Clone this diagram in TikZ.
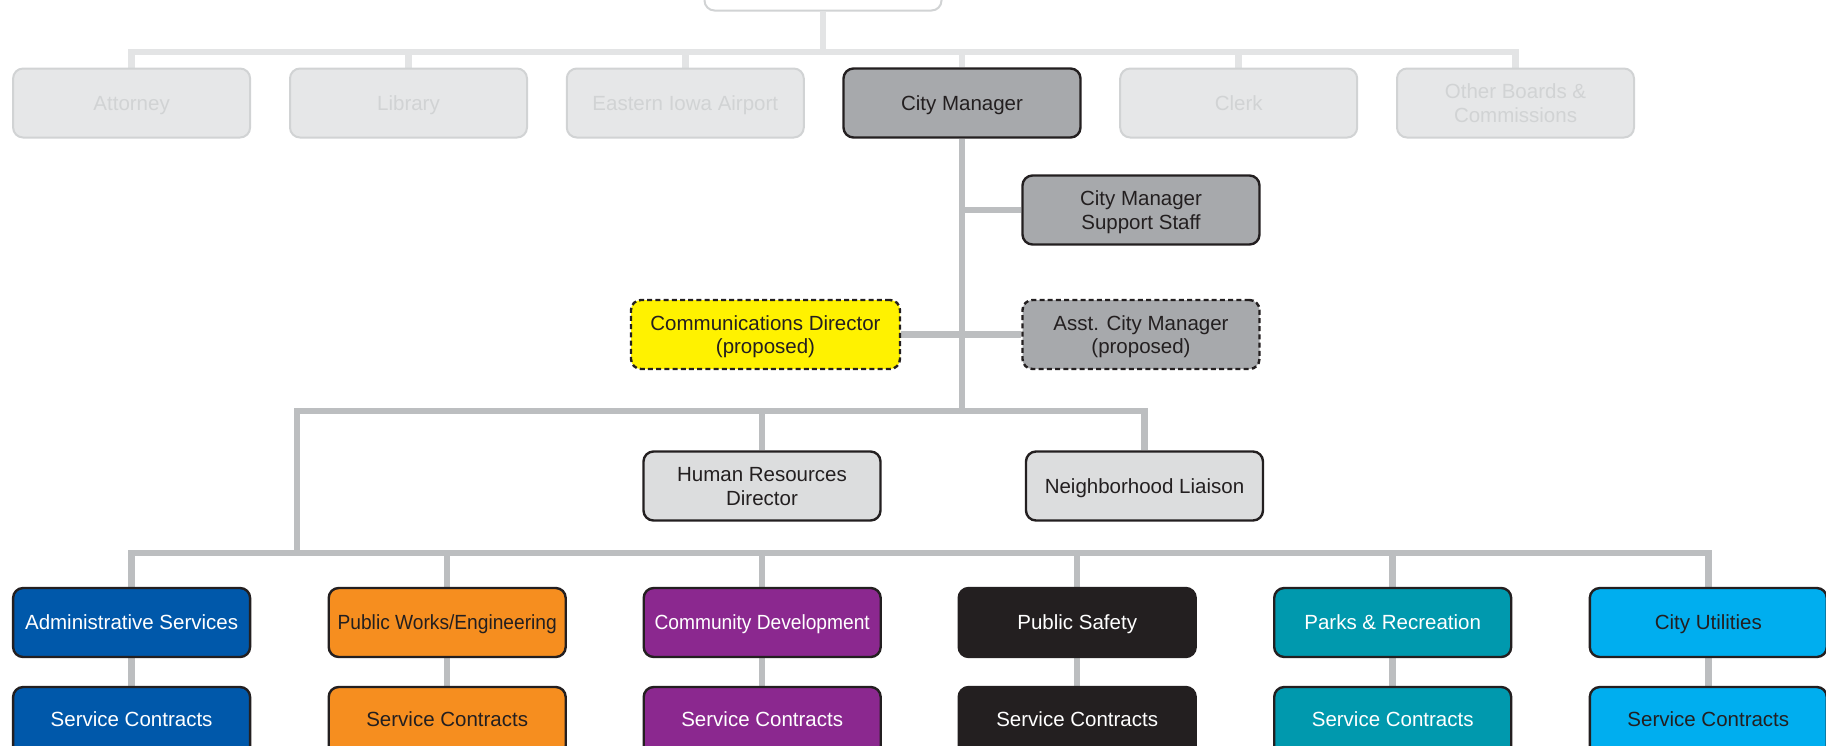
\documentclass[tikz,border=0pt]{standalone}
\usepackage{fontspec}
\setmainfont{Liberation Sans}
\newfontfamily\narrowfont[FakeStretch=0.935]{Liberation Sans}
\usetikzlibrary{backgrounds}

% palette
\definecolor{ink}{HTML}{231F20}
\definecolor{faintfill}{HTML}{E6E7E8}
\definecolor{faintline}{HTML}{D1D3D4}
\definecolor{topbar}{HTML}{E3E4E5}
\definecolor{mgrgray}{HTML}{A7A9AC}
\definecolor{staffgray}{HTML}{DCDDDE}
\definecolor{linkgray}{HTML}{BCBEC0}
\definecolor{propyellow}{HTML}{FFF200}
\definecolor{adminblue}{HTML}{0058AA}
\definecolor{pworange}{HTML}{F68E1F}
\definecolor{cdpurple}{HTML}{8B288F}
\definecolor{parksteal}{HTML}{0099AE}
\definecolor{utilcyan}{HTML}{00AEEF}

% one line of a multi-line box, with a fixed height and depth
\newcommand\orgstrut{\vrule width 0pt height 16pt depth 1.3pt}
\newcommand\orgline[1]{\orgstrut\smash{#1}}

\tikzset{
  orgbox/.style={rectangle, rounded corners=10pt, minimum width=237pt,
    minimum height=69pt, inner sep=0pt, align=center, line width=2.4pt,
    draw=ink, text=ink, font=\fontsize{20.5}{23.5}\selectfont,
    text height=16pt, text depth=1.3pt},
  multi/.style={text height=, text depth=},
  narrow/.style={font=\narrowfont\fontsize{20.5}{23.5}\selectfont},
  board/.style={orgbox, fill=faintfill, draw=faintline, text=faintline, line width=2pt},
  mgr/.style={orgbox, fill=mgrgray},
  staff/.style={orgbox, fill=staffgray},
  proposed/.style={dash pattern=on 5pt off 3.2pt},
  dept/.style={orgbox, fill=#1},
  contract/.style={dept=#1, text depth=6.3pt},
  toplink/.style={draw=topbar, line width=6.5pt},
  link/.style={draw=linkgray, line width=6.5pt}
}

\begin{document}
\begin{tikzpicture}[x=1pt, y=-1pt]
\useasboundingbox (0,0) rectangle (1826,745);
\clip (0,0) rectangle (1826,745);

% council level (cut at the top edge)
\node[board, fill=white, draw=faintline] (council) at (823,-24) {};

% boards and offices reporting to council
\node[board] (attorney) at (131.6,103) {Attorney};
\node[board] (library)  at (408.5,103) {Library};
\node[board] (airport)  at (685.3,103) {Eastern Iowa Airport};
\node[mgr]   (cm)       at (962,103)   {City Manager};
\node[board] (clerk)    at (1238.7,103) {Clerk};
\node[board, multi] (boards) at (1515.5,103) {\orgline{Other Boards \&}\\\orgline{Commissions}};

% city manager's office
\node[mgr, multi] (support) at (1141,210) {\orgline{City Manager}\\\orgline{Support Staff}};
\node[orgbox, multi, proposed, fill=propyellow, minimum width=269pt] (comms) at (765.5,334.5)
  {\orgline{Communications Director}\\\orgline{(proposed)}};
\node[mgr, multi, proposed] (asst) at (1141,334.5) {\orgline{Asst. City Manager}\\\orgline{(proposed)}};
\node[staff, multi] (hr) at (762,486) {\orgline{Human Resources}\\\orgline{Director}};
\node[staff] (nl) at (1144.5,486) {Neighborhood Liaison};

% departments
\node[dept=adminblue, text=white] (admin) at (131.6,622.5) {Administrative Services};
\node[dept=pworange, narrow] (pw) at (447.2,622.5) {Public Works/Engineering};
\node[dept=cdpurple, narrow, text=white] (cd) at (762.2,622.5) {Community Development};
\node[dept=ink, text=white] (ps) at (1077.2,622.5) {Public Safety};
\node[dept=parksteal, text=white] (pr) at (1392.7,622.5) {Parks \& Recreation};
\node[dept=utilcyan] (cu) at (1708.3,622.5) {City Utilities};

% service contracts under each department
\node[contract=adminblue, text=white] (adminsc) at (131.6,721.5) {Service Contracts};
\node[contract=pworange] (pwsc) at (447.2,721.5) {Service Contracts};
\node[contract=cdpurple, text=white] (cdsc) at (762.2,721.5) {Service Contracts};
\node[contract=ink, text=white] (pssc) at (1077.2,721.5) {Service Contracts};
\node[contract=parksteal, text=white] (prsc) at (1392.7,721.5) {Service Contracts};
\node[contract=utilcyan] (cusc) at (1708.3,721.5) {Service Contracts};

% junction points of the connector bars
\coordinate (tbar) at (823,52);
\coordinate (mleft) at (297,411);
\coordinate (bbar) at (920,553);

\begin{scope}[on background layer]
  % council bar
  \draw[toplink] (council.south) -- (tbar);
  \draw[toplink] (attorney.north) |- (tbar) -| (boards.north);
  \foreach \n in {library, airport, cm, clerk}
    \draw[toplink] (\n.north) -- (\n.north |- tbar);

  % city manager's office
  \draw[link] (cm.south) -- (cm.south |- mleft);
  \draw[link] (support.west) -- (support.west -| cm.south);
  \draw[link] (comms.east) -- (asst.west);
  \draw[link] (nl.north) |- (mleft) -- (mleft |- bbar);
  \draw[link] (hr.north) -- (hr.north |- mleft);

  % department bar
  \draw[link] (admin.north) |- (bbar) -| (cu.north);
  \foreach \n in {pw, cd, ps, pr}
    \draw[link] (\n.north) -- (\n.north |- bbar);
  \foreach \n in {admin, pw, cd, ps, pr, cu}
    \draw[link] (\n.south) -- (\n sc.north);
\end{scope}
\end{tikzpicture}
\end{document}
